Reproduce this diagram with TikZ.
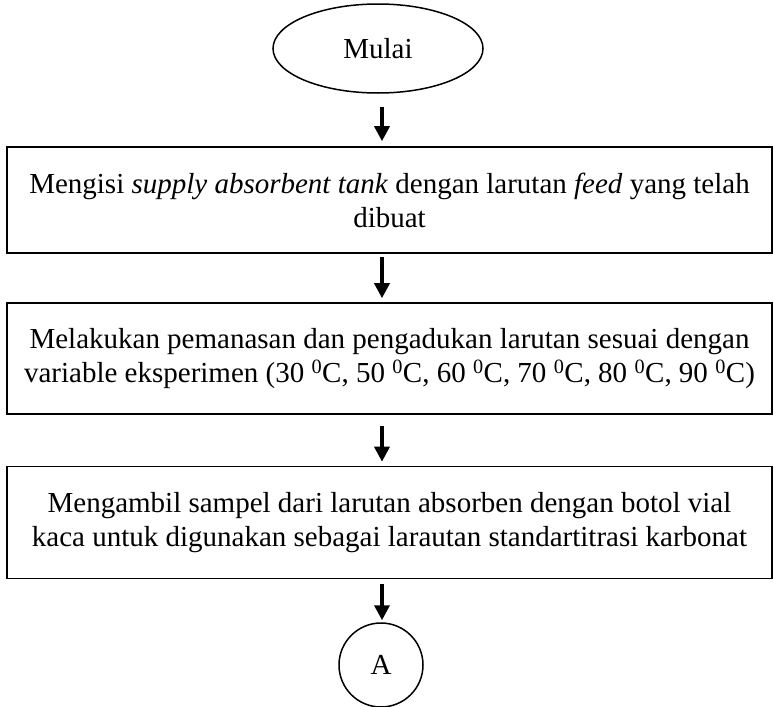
\documentclass[tikz,border=0pt]{standalone}
\usepackage{fontspec}
\setmainfont{Liberation Serif}
\usetikzlibrary{arrows.meta,shapes.geometric,calc}

\tikzset{
  every node/.style={font=\fontsize{29pt}{34pt}\selectfont},
  stepbox/.style={draw, line width=1.6pt, rectangle, minimum width=765pt,
                  align=center, inner sep=0pt},
  terminal/.style={draw, line width=1.5pt, ellipse, minimum width=210pt,
                   minimum height=89pt, inner sep=0pt},
  connector/.style={draw, line width=1.5pt, circle, minimum size=84pt, inner sep=0pt},
  flow/.style={line width=3.5pt, -{Triangle[length=15pt,width=15pt]}}
}

\begin{document}
\begin{tikzpicture}[x=1pt,y=-1pt]
  \useasboundingbox (0,0) rectangle (774,707);

  % start terminal
  \node[terminal] (start) at (378,48.5) {Mulai};

  % process steps
  \node[stepbox, minimum height=106pt] (s1) at (389.5,200)
    {Mengisi \textit{supply absorbent tank} dengan larutan \textit{feed} yang telah\\dibuat};
  \node[stepbox, minimum height=111pt] (s2) at (389.5,358.5)
    {Melakukan pemanasan dan pengadukan larutan sesuai dengan\\variable eksperimen (30 \textsuperscript{0}C, 50 \textsuperscript{0}C, 60 \textsuperscript{0}C, 70 \textsuperscript{0}C, 80 \textsuperscript{0}C, 90 \textsuperscript{0}C)};
  \node[stepbox, minimum height=112pt] (s3) at (389.5,522.5)
    {Mengambil sampel dari larutan absorben dengan botol vial\\kaca untuk digunakan sebagai larautan standartitrasi karbonat};

  % off-page connector
  \node[connector] (a) at (381,665) {A};

  % flow arrows
  \draw[flow] ($(start.south)+(4,13)$) -- ($(s1.north)+(-7.5,-5)$);
  \draw[flow] ($(s1.south)+(-7.5,3)$) -- ($(s2.north)+(-7.5,-4)$);
  \draw[flow] ($(s2.south)+(-7.5,11)$) -- ($(s3.north)+(-7.5,-4)$);
  \draw[flow] ($(s3.south)+(-7.5,5)$) -- ($(a.north)+(1,-2)$);
\end{tikzpicture}
\end{document}
